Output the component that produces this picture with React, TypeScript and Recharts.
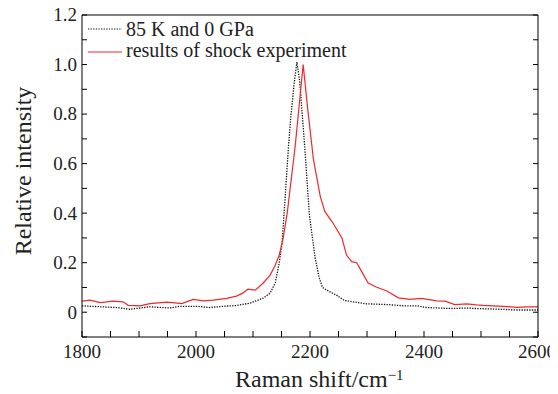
import { LineChart, Line, XAxis, YAxis, Legend } from 'recharts';

// black dotted: 85 K, 0 GPa reference spectrum
const blackShift = [1800, 1832, 1861, 1884, 1902, 1919, 1954, 1972, 2001, 2024, 2048, 2071, 2095, 2118, 2130, 2139, 2146, 2151, 2156, 2162, 2166, 2172, 2177, 2182, 2191, 2199, 2209, 2216, 2222, 2232, 2247, 2260, 2275, 2299, 2335, 2364, 2387, 2405, 2446, 2475, 2492, 2533, 2563, 2600];
const blackValue = [0.026, 0.022, 0.019, 0.012, 0.017, 0.022, 0.017, 0.024, 0.024, 0.019, 0.024, 0.027, 0.037, 0.057, 0.077, 0.118, 0.199, 0.28, 0.45, 0.66, 0.78, 0.92, 1.01, 0.93, 0.66, 0.39, 0.22, 0.14, 0.1, 0.086, 0.068, 0.048, 0.042, 0.034, 0.031, 0.026, 0.026, 0.019, 0.015, 0.017, 0.015, 0.012, 0.009, 0.009];

// red: shock experiment
const redShift = [1800, 1814, 1832, 1855, 1872, 1881, 1902, 1919, 1949, 1963, 1975, 1995, 2013, 2030, 2054, 2071, 2082, 2091, 2104, 2118, 2130, 2139, 2146, 2153, 2160, 2174, 2188, 2196, 2206, 2218, 2226, 2240, 2256, 2264, 2273, 2282, 2291, 2302, 2317, 2335, 2355, 2375, 2396, 2422, 2437, 2454, 2475, 2492, 2504, 2539, 2563, 2580, 2600];
const redValue = [0.045, 0.049, 0.039, 0.045, 0.042, 0.028, 0.026, 0.035, 0.041, 0.038, 0.035, 0.052, 0.046, 0.049, 0.056, 0.065, 0.077, 0.093, 0.089, 0.118, 0.15, 0.19, 0.231, 0.3, 0.4, 0.67, 1.0, 0.82, 0.617, 0.468, 0.407, 0.361, 0.3, 0.231, 0.204, 0.2, 0.163, 0.118, 0.101, 0.086, 0.058, 0.052, 0.056, 0.046, 0.045, 0.031, 0.034, 0.03, 0.028, 0.024, 0.02, 0.022, 0.022];

const seriesNames = ['85 K and 0 GPa', 'results of shock experiment'];
const seriesColors = ['#111111', '#f02828'];
const seriesDash = ['1.3 1.3', undefined];

const shiftTicks = [1800, 1850, 1900, 1950, 2000, 2050, 2100, 2150, 2200, 2250, 2300, 2350, 2400, 2450, 2500, 2550, 2600];
const shiftLabels = [1800, 2000, 2200, 2400, 2600];
const intensityTicks = [-0.1, 0, 0.1, 0.2, 0.3, 0.4, 0.5, 0.6, 0.7, 0.8, 0.9, 1.0, 1.1, 1.2];
const intensityLabels = [0, 0.2, 0.4, 0.6, 0.8, 1.0, 1.2];

const black = blackShift.map((s, i) => ({ shift: s, value: blackValue[i] }));
const red = redShift.map((s, i) => ({ shift: s, value: redValue[i] }));

const serif = 'Liberation Serif';
const ink = '#222';

const isLabelY = (v: number) => intensityLabels.some((l) => Math.abs(l - v) < 1e-6);

function BottomTick(props: any) {
  const { x, y, payload } = props;
  const v = payload.value;
  return (
    <g fontFamily={serif}>
      <line x1={x} y1={y} x2={x} y2={y - 6} stroke="#000" />
      {shiftLabels.includes(v) && (
        <text x={v === 2600 ? x - 1 : x} y={y + 21} textAnchor="middle" fontFamily={serif} fontSize={19} fill={ink}>
          <tspan fontFamily={serif}>{String(v)}</tspan>
        </text>
      )}
    </g>
  );
}

function TopTick(props: any) {
  const { x, y } = props;
  return <line x1={x} y1={y} x2={x} y2={y + 4} stroke="#000" />;
}

function LeftTick(props: any) {
  const { x, y, payload } = props;
  const v = payload.value;
  return (
    <g fontFamily={serif}>
      <line x1={x} y1={y} x2={x + 5} y2={y} stroke="#000" />
      {isLabelY(v) && (
        <text x={x - 5} y={y + 6.4} textAnchor="end" fontFamily={serif} fontSize={19} fill={ink}>
          <tspan fontFamily={serif}>{Math.abs(v) < 1e-6 ? '0' : v.toFixed(1)}</tspan>
        </text>
      )}
    </g>
  );
}

function RightTick(props: any) {
  const { x, y } = props;
  return <line x1={x} y1={y} x2={x - 5} y2={y} stroke="#000" />;
}

function LegendBox(props: any) {
  const { payload } = props;
  return (
    <svg width={320} height={50} style={{ display: 'block', overflow: 'visible' }}>
      {(payload || []).map((entry: any, i: number) => (
        <g key={entry.value}>
          <line x1={2} x2={36} y1={11 + i * 23} y2={11 + i * 23} stroke={entry.color} strokeWidth={1.2} strokeDasharray={seriesDash[i]} />
          <text x={40} y={18 + i * 21.4} fontFamily={serif} fontSize={20} fill={ink}>
            {entry.value}
          </text>
        </g>
      ))}
    </svg>
  );
}

// axis titles drawn in a plain overlay svg (same box as the chart)
function AxisTitles() {
  return (
    <svg width={550} height={386} style={{ position: 'absolute', left: 0, top: 0, pointerEvents: 'none' }}>
      <text x={227} y={379} fontFamily={serif} fontSize={24} fill={ink}>
        Raman shift/cm
        <tspan dy={-7} fontSize={15}>−1</tspan>
      </text>
      <text x={22.7} y={163} transform="rotate(-90, 22.7, 163)" textAnchor="middle" fontFamily={serif} fontSize={24} fill={ink}>
        Relative intensity
      </text>
    </svg>
  );
}

export default function App() {
  return (
    <div style={{ position: 'relative', width: 550, height: 386, fontFamily: serif }}>
      <LineChart width={550} height={386} margin={{ top: 6, right: 19, bottom: 7, left: 14 }} style={{ fontFamily: serif }}>
        <XAxis
          dataKey="shift"
          type="number"
          domain={[1800, 2600]}
          ticks={shiftTicks}
          interval={0}
          allowDataOverflow
          height={50}
          tickSize={0}
          tickMargin={0}
          tickLine={false}
          axisLine={{ stroke: '#000' }}
          tick={BottomTick}
        />
        <XAxis
          xAxisId="top"
          orientation="top"
          type="number"
          domain={[1800, 2600]}
          ticks={shiftTicks}
          interval={0}
          allowDataOverflow
          height={1}
          tickSize={0}
          tickMargin={0}
          tickLine={false}
          axisLine={{ stroke: '#000' }}
          tick={TopTick}
        />
        <YAxis
          type="number"
          domain={[-0.1, 1.2]}
          ticks={intensityTicks}
          interval={0}
          allowDataOverflow
          width={60}
          tickSize={0}
          tickMargin={0}
          tickLine={false}
          axisLine={{ stroke: '#000' }}
          tick={LeftTick}
        />
        <YAxis
          yAxisId="right"
          orientation="right"
          type="number"
          domain={[-0.1, 1.2]}
          ticks={intensityTicks}
          interval={0}
          allowDataOverflow
          width={1}
          tickSize={0}
          tickMargin={0}
          tickLine={false}
          axisLine={{ stroke: '#000' }}
          tick={RightTick}
        />
        <Legend
          layout="horizontal"
          verticalAlign="middle"
          align="center"
          wrapperStyle={{ top: 10, left: 78, width: 320, height: 50 }}
          content={LegendBox}
        />
        <Line
          data={black}
          dataKey="value"
          name={seriesNames[0]}
          type="linear"
          stroke={seriesColors[0]}
          strokeWidth={1.3}
          strokeDasharray={seriesDash[0]}
          dot={false}
          isAnimationActive={false}
        />
        <Line
          data={red}
          dataKey="value"
          name={seriesNames[1]}
          type="linear"
          stroke={seriesColors[1]}
          strokeWidth={1.2}
          dot={false}
          isAnimationActive={false}
        />
      </LineChart>
      <AxisTitles />
    </div>
  );
}
